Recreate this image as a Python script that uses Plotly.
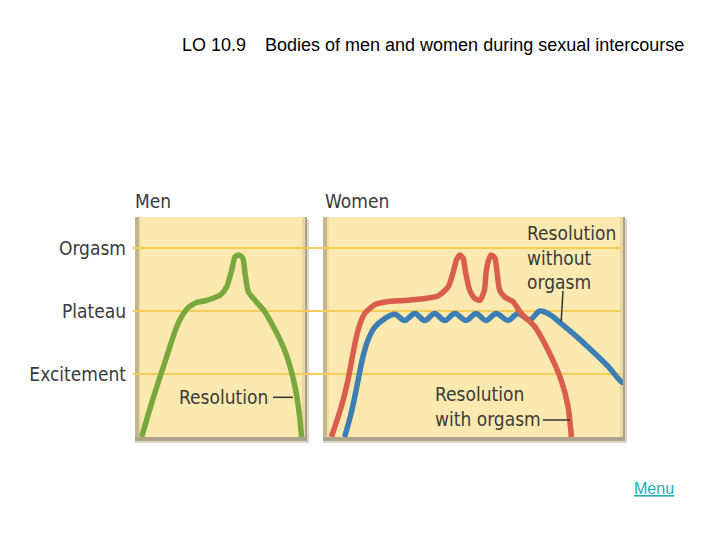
import plotly.graph_objects as go

W, H = 720, 540
OFF = 8  # page body margin

# ---------------- data ----------------
level_vals = [1, 2, 3]
level_names = ["Excitement", "Plateau", "Orgasm"]

# Men (time 0..100 across the panel, level units: Excitement=1, Plateau=2, Orgasm=3)
men_t = [3.9, 10.8, 17.6, 24.5, 27.6, 31.2, 35.9, 42.2, 50.0, 53.9, 56.9, 58.8, 60.8,
         63.4, 64.7, 66.6, 69.6, 75.5, 81.4, 87.2, 91.2, 94.1, 96.6, 98.0]
men_y = [0.0, 0.63, 1.19, 1.75, 1.92, 2.05, 2.13, 2.17, 2.25, 2.38, 2.65, 2.86, 2.89,
         2.84, 2.60, 2.31, 2.20, 2.02, 1.75, 1.43, 1.12, 0.80, 0.38, 0.0]

# Women, with orgasm (red)
red_t = [2.8, 6.1, 8.3, 10.0, 11.7, 13.9, 17.2, 21.7, 28.3, 38.3, 41.7, 43.3, 44.5, 45.6,
         46.7, 47.5, 48.9, 50.6, 52.3, 53.8, 54.4, 55.2, 56.1, 57.3, 58.0, 58.9, 60.6,
         63.3, 66.1, 70.6, 75.0, 79.4, 81.7, 82.8]
red_y = [0.0, 0.48, 0.90, 1.33, 1.70, 1.96, 2.10, 2.15, 2.17, 2.24, 2.38, 2.60, 2.81, 2.89,
         2.84, 2.62, 2.33, 2.20, 2.17, 2.33, 2.62, 2.81, 2.89, 2.84, 2.62, 2.33, 2.22,
         2.15, 1.96, 1.75, 1.38, 0.90, 0.48, 0.0]

# Women, without orgasm (blue)
blue_t = [7.2, 9.4, 11.7, 13.3, 15.0, 17.2, 20.6, 23.9, 27.2, 30.6, 33.9, 37.2, 40.6,
          43.9, 47.7, 51.0, 54.3, 57.7, 61.7, 65.0, 68.9, 72.3, 75.7, 79.4, 83.9, 89.4,
          95.0, 99.4, 101.0]
blue_y = [0.0, 0.38, 0.90, 1.27, 1.54, 1.74, 1.88, 1.95, 1.85, 1.96, 1.85, 1.96, 1.85,
          1.96, 1.85, 1.96, 1.85, 1.96, 1.85, 1.96, 1.86, 2.00, 1.94, 1.80, 1.62, 1.38,
          1.12, 0.88, 0.84]

# ---------------- styles ----------------
GREEN = "#79A93E"
RED = "#D95E4C"
BLUE = "#3D7FB4"
PANEL = "#FCE9B0"
LEVEL_LINE = "#F6CC58"
TXT = "#3a3a3a"
LABEL_FONT = dict(family="DejaVu Sans Condensed, Liberation Sans Narrow, Arial", size=19, color=TXT)
FW, FH = W - OFF, H - OFF


def px(x):
    return (x - OFF) / FW


def py(y):
    return 1 - (y - OFF) / FH


TOP, BOT = 217, 437
MEN = (135, 305)
WOMEN = (323, 623)
Y_RANGE = [0, (BOT - TOP) / 63.0]

fig = go.Figure()

fig.add_trace(go.Scatter(x=men_t, y=men_y, mode="lines", xaxis="x", yaxis="y",
                         line=dict(color=GREEN, width=5.5, shape="spline", smoothing=0.6),
                         hoverinfo="skip", showlegend=False))
fig.add_trace(go.Scatter(x=blue_t, y=blue_y, mode="lines", xaxis="x2", yaxis="y2",
                         line=dict(color=BLUE, width=5.5, shape="spline", smoothing=1.0),
                         hoverinfo="skip", showlegend=False))
fig.add_trace(go.Scatter(x=red_t, y=red_y, mode="lines", xaxis="x2", yaxis="y2",
                         line=dict(color=RED, width=5.5, shape="spline", smoothing=0.6),
                         hoverinfo="skip", showlegend=False))

shapes = []
for (l, r) in (MEN, WOMEN):
    # outer soft shadow (bottom + right)
    shapes.append(dict(type="rect", xref="paper", yref="paper", layer="below",
                       x0=px(l), x1=px(r + 4), y0=py(BOT + 6), y1=py(TOP + 2),
                       fillcolor="#DAD6CC", line=dict(width=0)))
    shapes.append(dict(type="rect", xref="paper", yref="paper", layer="below",
                       x0=px(l), x1=px(r + 2), y0=py(BOT + 4), y1=py(TOP),
                       fillcolor="#ABA38C", line=dict(width=0)))
    # panel fill
    shapes.append(dict(type="rect", xref="paper", yref="paper", layer="below",
                       x0=px(l), x1=px(r), y0=py(BOT), y1=py(TOP),
                       fillcolor=PANEL, line=dict(width=0)))
    # right edge shading
    shapes.append(dict(type="rect", xref="paper", yref="paper", layer="below",
                       x0=px(r - 3), x1=px(r), y0=py(BOT), y1=py(TOP),
                       fillcolor="#EAD8A2", line=dict(width=0)))
    # left edge shading
    shapes.append(dict(type="rect", xref="paper", yref="paper", layer="below",
                       x0=px(l), x1=px(l + 4), y0=py(BOT), y1=py(TOP),
                       fillcolor="#C3B68C", line=dict(width=0)))
    shapes.append(dict(type="rect", xref="paper", yref="paper", layer="below",
                       x0=px(l + 4), x1=px(l + 6), y0=py(BOT), y1=py(TOP),
                       fillcolor="#EEDDA5", line=dict(width=0)))

# level lines across both panels
for v in level_vals:
    shapes.append(dict(type="line", xref="paper", yref="y", layer="below",
                       x0=px(133), x1=px(621), y0=v, y1=v,
                       line=dict(color=LEVEL_LINE, width=2)))

# leader lines
shapes.append(dict(type="line", xref="x", yref="y", x0=81.2, x1=92.9, y0=0.63, y1=0.63,
                   line=dict(color="#333333", width=1.5)))
shapes.append(dict(type="line", xref="x2", yref="y2", x0=80.0, x1=79.4, y0=2.32, y1=1.83,
                   line=dict(color="#333333", width=1.5)))
shapes.append(dict(type="line", xref="x2", yref="y2", x0=73.3, x1=82.3, y0=0.27, y1=0.27,
                   line=dict(color="#333333", width=1.5)))

annotations = [
    dict(text="LO 10.9", xref="paper", yref="paper", x=px(180), y=py(45),
         xanchor="left", yanchor="middle", showarrow=False,
         font=dict(family="Liberation Sans, Arial", size=18, color="black")),
    dict(text="Bodies of men and women during sexual intercourse", xref="paper", yref="paper",
         x=px(263), y=py(45), xanchor="left", yanchor="middle", showarrow=False,
         font=dict(family="Liberation Sans, Arial", size=18, color="black")),
    dict(text="<u>Menu</u>", xref="paper", yref="paper", x=px(654), y=py(488),
         xanchor="center", yanchor="middle", showarrow=False,
         font=dict(family="Liberation Sans, Arial", size=16, color="#22AEB4")),
    dict(text="Men", xref="paper", yref="paper", x=px(133), y=py(201),
         xanchor="left", yanchor="middle", showarrow=False, font=LABEL_FONT),
    dict(text="Women", xref="paper", yref="paper", x=px(323), y=py(201),
         xanchor="left", yanchor="middle", showarrow=False, font=LABEL_FONT),
    dict(text="Resolution", xref="x", yref="y", x=79.4, y=0.63,
         xanchor="right", yanchor="middle", showarrow=False, font=LABEL_FONT),
    dict(text="Resolution<br>without<br>orgasm", xref="x2", yref="y2", x=67.3, y=3.45,
         xanchor="left", yanchor="top", align="left", showarrow=False, font=LABEL_FONT),
    dict(text="Resolution<br>with orgasm", xref="x2", yref="y2", x=36.7, y=0.27,
         xanchor="left", yanchor="bottom", align="left", showarrow=False, font=LABEL_FONT,
         yshift=-12),
]

fig.update_layout(
    width=FW, height=FH, autosize=False,
    margin=dict(l=0, r=0, t=0, b=0),
    paper_bgcolor="white", plot_bgcolor="rgba(0,0,0,0)",
    shapes=shapes, annotations=annotations, showlegend=False,
    xaxis=dict(domain=[px(MEN[0]), px(MEN[1])], range=[0, 100], visible=False, fixedrange=True),
    xaxis2=dict(domain=[px(WOMEN[0]), px(WOMEN[1])], range=[0, 100], visible=False,
                fixedrange=True),
    yaxis=dict(domain=[py(BOT), py(TOP)], range=Y_RANGE, tickvals=level_vals,
               ticktext=level_names, showgrid=False, zeroline=False, showline=False,
               ticks="", ticklabelstandoff=8, automargin=False, fixedrange=True,
               tickfont=LABEL_FONT),
    yaxis2=dict(domain=[py(BOT), py(TOP)], range=Y_RANGE, anchor="x2", showgrid=False,
                zeroline=False, showline=False, showticklabels=False, ticks="",
                fixedrange=True),
)

fig.write_html("out.html")
